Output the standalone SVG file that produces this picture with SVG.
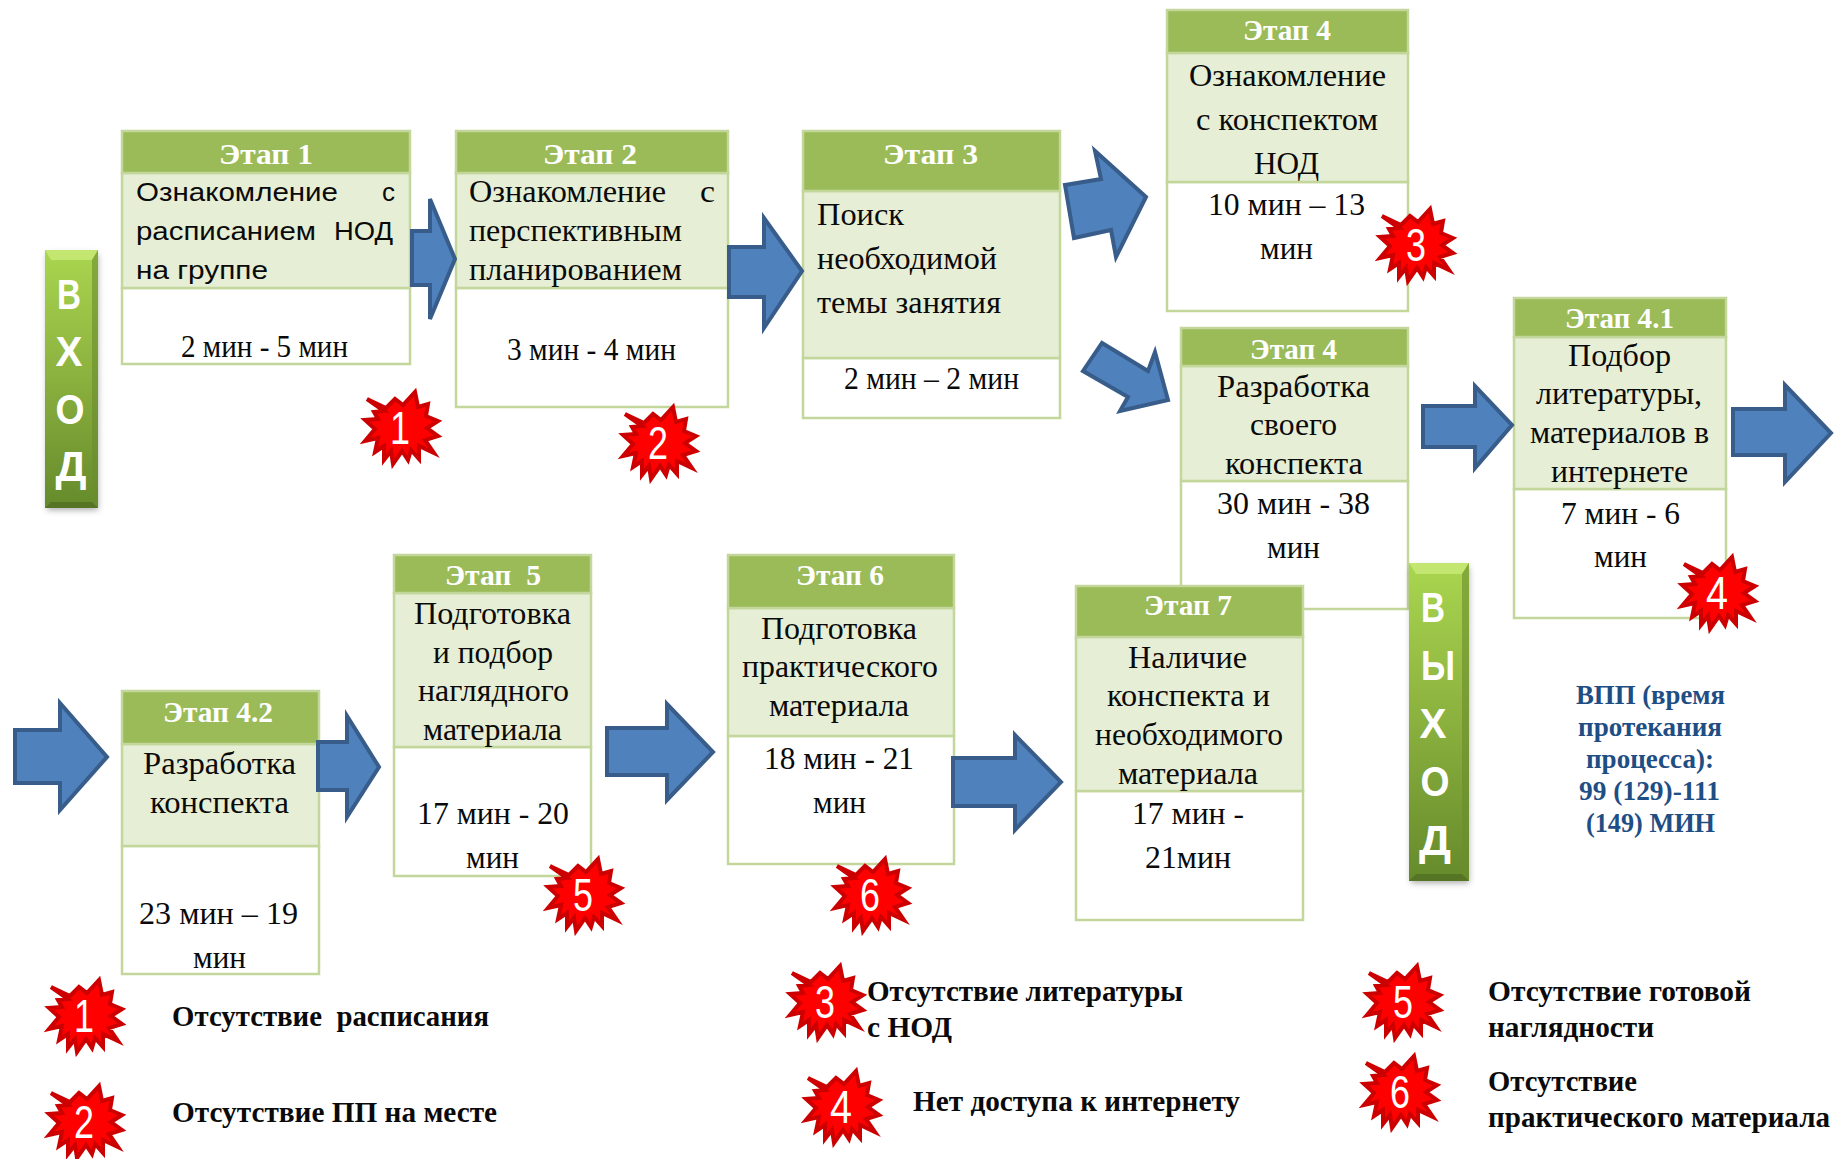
<svg xmlns="http://www.w3.org/2000/svg" width="1834" height="1159" viewBox="0 0 1834 1159">
<style>
text{font-family:"Liberation Serif","DejaVu Serif",serif;fill:#0a0a0a}
.h{fill:#9bbb59;stroke:#c3d69b;stroke-width:2.5}
.m{fill:#e6eed5;stroke:#c3d69b;stroke-width:2.5}
.b{fill:#fff;stroke:#c3d69b;stroke-width:2.5}
.ht{font-size:30px;font-weight:bold;fill:#fff}
.t{font-size:31px}
.s{font-family:"Liberation Sans","DejaVu Sans",sans-serif;font-size:26px}
.l{font-size:30px;font-weight:bold}
.v{font-size:28px;font-weight:bold;fill:#1f4e85}
.a{fill:#4f81bd;stroke:#385d8a;stroke-width:4}
.sn{font-family:"Liberation Sans","DejaVu Sans",sans-serif;font-size:46px;fill:#fff;text-anchor:middle}
.bl{font-family:"Liberation Sans","DejaVu Sans",sans-serif;font-size:42px;font-weight:bold;fill:#fff;text-anchor:middle}
</style>
<defs>
<linearGradient id="g" x1="0" y1="0" x2="0" y2="1"><stop offset="0" stop-color="#a9d64f"/><stop offset=".45" stop-color="#8eb440"/><stop offset="1" stop-color="#658a2b"/></linearGradient>
<filter id="sh" x="-30%" y="-10%" width="160%" height="120%"><feGaussianBlur stdDeviation="3"/></filter>
<polygon id="star" points="14,-36 17,-21 27,-24 25,-12 37,-7 26,0 37,8 24,12 33,25 18,18 18,31 10,22 7,32 1,23 -8,36 -10,23 -17,32 -17,18 -26,24 -23,10 -36,13 -26,1 -36,-8 -23,-9 -27,-16 -17,-17 -34,-29 -15,-20 -6,-29 2,-23" fill="#ff0000" stroke="#cc0000" stroke-width="4" stroke-linejoin="miter" stroke-miterlimit="4"/>
</defs>
<rect width="1834" height="1159" fill="#fff"/>

<g id="vhod">
<rect x="47" y="254" width="51" height="256" fill="#555" opacity=".5" filter="url(#sh)"/>
<rect x="45" y="250" width="53" height="258" fill="url(#g)"/>
<polygon points="45,250 98,250 92,260 51,260" fill="#c2e66f"/>
<polygon points="92,260 98,250 98,508 92,502" fill="#6a8c2e" opacity=".6"/>
<polygon points="45,508 98,508 92,502 51,502" fill="#557524"/>
<text class="bl" x="69" y="309" textLength="24" lengthAdjust="spacingAndGlyphs">В</text><text class="bl" x="69" y="366" textLength="27" lengthAdjust="spacingAndGlyphs">Х</text><text class="bl" x="70" y="424" textLength="29" lengthAdjust="spacingAndGlyphs">О</text><text class="bl" x="71" y="481" textLength="31" lengthAdjust="spacingAndGlyphs">Д</text>
</g>

<g id="etap1">
<rect class="b" x="122" y="288" width="288" height="76"/><rect class="m" x="122" y="173" width="288" height="115"/><rect class="h" x="122" y="131" width="288" height="42"/>
<text class="ht" x="219" y="164" textLength="94" lengthAdjust="spacingAndGlyphs">Этап 1</text>
<text class="s" x="136" y="201" textLength="202" lengthAdjust="spacingAndGlyphs">Ознакомление</text><text class="s" x="382" y="201" textLength="13" lengthAdjust="spacingAndGlyphs">с</text>
<text class="s" x="136" y="240" textLength="180" lengthAdjust="spacingAndGlyphs">расписанием</text><text class="s" x="334" y="240" textLength="59" lengthAdjust="spacingAndGlyphs">НОД</text>
<text class="s" x="136" y="279" textLength="132" lengthAdjust="spacingAndGlyphs">на группе</text>
<text class="t" x="181" y="357" textLength="167" lengthAdjust="spacingAndGlyphs">2 мин - 5 мин</text>
</g>
<g id="etap2">
<rect class="b" x="456" y="288" width="272" height="119"/><rect class="m" x="456" y="173" width="272" height="115"/><rect class="h" x="456" y="131" width="272" height="42"/>
<text class="ht" x="543" y="164" textLength="94" lengthAdjust="spacingAndGlyphs">Этап 2</text>
<text class="t" x="469" y="202" textLength="197" lengthAdjust="spacingAndGlyphs">Ознакомление</text><text class="t" x="700" y="202" textLength="15" lengthAdjust="spacingAndGlyphs">с</text>
<text class="t" x="469" y="241" textLength="213" lengthAdjust="spacingAndGlyphs">перспективным</text>
<text class="t" x="469" y="280" textLength="213" lengthAdjust="spacingAndGlyphs">планированием</text>
<text class="t" x="507" y="360" textLength="169" lengthAdjust="spacingAndGlyphs">3 мин - 4 мин</text>
</g>
<g id="etap3">
<rect class="b" x="803" y="358" width="257" height="60"/><rect class="m" x="803" y="191" width="257" height="167"/><rect class="h" x="803" y="131" width="257" height="60"/>
<text class="ht" x="883" y="164" textLength="95" lengthAdjust="spacingAndGlyphs">Этап 3</text>
<text class="t" x="817" y="225" textLength="87" lengthAdjust="spacingAndGlyphs">Поиск</text>
<text class="t" x="817" y="269" textLength="180" lengthAdjust="spacingAndGlyphs">необходимой</text>
<text class="t" x="817" y="313" textLength="184" lengthAdjust="spacingAndGlyphs">темы занятия</text>
<text class="t" x="844" y="389" textLength="175" lengthAdjust="spacingAndGlyphs">2 мин – 2 мин</text>
</g>
<g id="etap4a">
<rect class="b" x="1167" y="182" width="241" height="129"/><rect class="m" x="1167" y="53" width="241" height="129"/><rect class="h" x="1167" y="10" width="241" height="43"/>
<text class="ht" x="1243" y="40" textLength="88" lengthAdjust="spacingAndGlyphs">Этап 4</text>
<text class="t" x="1189" y="86" textLength="197" lengthAdjust="spacingAndGlyphs">Ознакомление</text>
<text class="t" x="1196" y="130" textLength="182" lengthAdjust="spacingAndGlyphs">с конспектом</text>
<text class="t" x="1254" y="174" textLength="65" lengthAdjust="spacingAndGlyphs">НОД</text>
<text class="t" x="1208" y="215" textLength="157" lengthAdjust="spacingAndGlyphs">10 мин – 13</text>
<text class="t" x="1260" y="259" textLength="53" lengthAdjust="spacingAndGlyphs">мин</text>
</g>
<g id="etap4b">
<rect class="b" x="1181" y="481" width="227" height="128"/><rect class="m" x="1181" y="366" width="227" height="115"/><rect class="h" x="1181" y="328" width="227" height="38"/>
<text class="ht" x="1250" y="359" textLength="87" lengthAdjust="spacingAndGlyphs">Этап 4</text>
<text class="t" x="1217" y="397" textLength="153" lengthAdjust="spacingAndGlyphs">Разработка</text>
<text class="t" x="1250" y="435" textLength="87" lengthAdjust="spacingAndGlyphs">своего</text>
<text class="t" x="1225" y="474" textLength="138" lengthAdjust="spacingAndGlyphs">конспекта</text>
<text class="t" x="1217" y="514" textLength="153" lengthAdjust="spacingAndGlyphs">30 мин - 38</text>
<text class="t" x="1267" y="558" textLength="53" lengthAdjust="spacingAndGlyphs">мин</text>
</g>
<g id="etap41">
<rect class="b" x="1514" y="489" width="212" height="129"/><rect class="m" x="1514" y="337" width="212" height="152"/><rect class="h" x="1514" y="298" width="212" height="39"/>
<text class="ht" x="1565" y="328" textLength="109" lengthAdjust="spacingAndGlyphs">Этап 4.1</text>
<text class="t" x="1568" y="366" textLength="103" lengthAdjust="spacingAndGlyphs">Подбор</text>
<text class="t" x="1536" y="404" textLength="166" lengthAdjust="spacingAndGlyphs">литературы,</text>
<text class="t" x="1530" y="443" textLength="179" lengthAdjust="spacingAndGlyphs">материалов в</text>
<text class="t" x="1551" y="482" textLength="137" lengthAdjust="spacingAndGlyphs">интернете</text>
<text class="t" x="1561" y="524" textLength="119" lengthAdjust="spacingAndGlyphs">7 мин - 6</text>
<text class="t" x="1594" y="567" textLength="53" lengthAdjust="spacingAndGlyphs">мин</text>
</g>
<g id="etap42">
<rect class="b" x="122" y="846" width="197" height="128"/><rect class="m" x="122" y="744" width="197" height="102"/><rect class="h" x="122" y="691" width="197" height="53"/>
<text class="ht" x="163" y="722" textLength="110" lengthAdjust="spacingAndGlyphs">Этап 4.2</text>
<text class="t" x="143" y="774" textLength="153" lengthAdjust="spacingAndGlyphs">Разработка</text>
<text class="t" x="150" y="813" textLength="139" lengthAdjust="spacingAndGlyphs">конспекта</text>
<text class="t" x="139" y="924" textLength="159" lengthAdjust="spacingAndGlyphs">23 мин – 19</text>
<text class="t" x="193" y="968" textLength="53" lengthAdjust="spacingAndGlyphs">мин</text>
</g>
<g id="etap5">
<rect class="b" x="394" y="747" width="197" height="129"/><rect class="m" x="394" y="593" width="197" height="154"/><rect class="h" x="394" y="555" width="197" height="38"/>
<text class="ht" x="445" y="585" textLength="96" lengthAdjust="spacingAndGlyphs" xml:space="preserve">Этап  5</text>
<text class="t" x="414" y="624" textLength="157" lengthAdjust="spacingAndGlyphs">Подготовка</text>
<text class="t" x="433" y="663" textLength="120" lengthAdjust="spacingAndGlyphs">и подбор</text>
<text class="t" x="418" y="701" textLength="151" lengthAdjust="spacingAndGlyphs">наглядного</text>
<text class="t" x="423" y="740" textLength="139" lengthAdjust="spacingAndGlyphs">материала</text>
<text class="t" x="417" y="824" textLength="152" lengthAdjust="spacingAndGlyphs">17 мин - 20</text>
<text class="t" x="466" y="868" textLength="53" lengthAdjust="spacingAndGlyphs">мин</text>
</g>
<g id="etap6">
<rect class="b" x="728" y="736" width="226" height="128"/><rect class="m" x="728" y="608" width="226" height="128"/><rect class="h" x="728" y="555" width="226" height="53"/>
<text class="ht" x="796" y="585" textLength="88" lengthAdjust="spacingAndGlyphs">Этап 6</text>
<text class="t" x="761" y="639" textLength="156" lengthAdjust="spacingAndGlyphs">Подготовка</text>
<text class="t" x="742" y="677" textLength="196" lengthAdjust="spacingAndGlyphs">практического</text>
<text class="t" x="769" y="716" textLength="140" lengthAdjust="spacingAndGlyphs">материала</text>
<text class="t" x="764" y="769" textLength="150" lengthAdjust="spacingAndGlyphs">18 мин - 21</text>
<text class="t" x="813" y="813" textLength="53" lengthAdjust="spacingAndGlyphs">мин</text>
</g>
<g id="etap7">
<rect class="b" x="1076" y="791" width="227" height="129"/><rect class="m" x="1076" y="637" width="227" height="154"/><rect class="h" x="1076" y="586" width="227" height="51"/>
<text class="ht" x="1144" y="615" textLength="88" lengthAdjust="spacingAndGlyphs">Этап 7</text>
<text class="t" x="1128" y="668" textLength="119" lengthAdjust="spacingAndGlyphs">Наличие</text>
<text class="t" x="1107" y="706" textLength="163" lengthAdjust="spacingAndGlyphs">конспекта и</text>
<text class="t" x="1095" y="745" textLength="188" lengthAdjust="spacingAndGlyphs">необходимого</text>
<text class="t" x="1118" y="784" textLength="140" lengthAdjust="spacingAndGlyphs">материала</text>
<text class="t" x="1132" y="824" textLength="112" lengthAdjust="spacingAndGlyphs">17 мин -</text>
<text class="t" x="1145" y="868" textLength="86" lengthAdjust="spacingAndGlyphs">21мин</text>
</g>
<g id="vyhod">
<rect x="1411" y="567" width="58" height="316" fill="#555" opacity=".5" filter="url(#sh)"/>
<rect x="1409" y="563" width="60" height="318" fill="url(#g)"/>
<polygon points="1409,563 1469,563 1462,574 1416,574" fill="#c2e66f"/>
<polygon points="1462,574 1469,563 1469,881 1462,874" fill="#6a8c2e" opacity=".6"/>
<polygon points="1409,881 1469,881 1462,874 1416,874" fill="#557524"/>
<text class="bl" x="1433" y="622" textLength="24" lengthAdjust="spacingAndGlyphs">В</text><text class="bl" x="1438" y="680" textLength="34" lengthAdjust="spacingAndGlyphs">Ы</text><text class="bl" x="1433" y="738" textLength="27" lengthAdjust="spacingAndGlyphs">Х</text><text class="bl" x="1435" y="796" textLength="29" lengthAdjust="spacingAndGlyphs">О</text><text class="bl" x="1435" y="855" textLength="32" lengthAdjust="spacingAndGlyphs">Д</text>
</g>

<g id="connectors">
<polygon class="a" points="412,231 430,231 430,199 455,259 430,319 430,285 412,285"/>
<polygon class="a" points="729,247 764,247 764,218 802,271 764,328 764,297 729,297"/>
<polygon class="a" points="1065,185 1101,179 1095,151 1146,197 1116,257 1111,230 1074,238"/>
<polygon class="a" points="1083,371 1102,343 1148,371 1155,352 1168,400 1120,411 1128,397"/>
<polygon class="a" points="1423,406 1475,406 1475,386 1512,425 1475,468 1475,447 1423,447"/>
<polygon class="a" points="1733,409 1785,409 1785,385 1831,433 1785,482 1785,455 1733,455"/>
<polygon class="a" points="15,730 60,730 60,703 107,757 60,810 60,783 15,783"/>
<polygon class="a" points="318,742 347,742 347,716 379,767 347,817 347,790 318,790"/>
<polygon class="a" points="607,728 667,728 667,704 713,752 667,800 667,775 607,775"/>
<polygon class="a" points="953,758 1015,758 1015,735 1061,782 1015,830 1015,806 953,806"/>
</g>

<g id="marker-1"><use href="#star" x="401" y="428"/><text class="sn" x="400" y="444" textLength="20" lengthAdjust="spacingAndGlyphs">1</text></g>
<g id="marker-2"><use href="#star" x="659" y="443"/><text class="sn" x="658" y="459" textLength="20" lengthAdjust="spacingAndGlyphs">2</text></g>
<g id="marker-3"><use href="#star" x="1416" y="245"/><text class="sn" x="1416" y="261" textLength="20" lengthAdjust="spacingAndGlyphs">3</text></g>
<g id="marker-4"><use href="#star" x="1718" y="593"/><text class="sn" x="1717" y="609" textLength="22" lengthAdjust="spacingAndGlyphs">4</text></g>
<g id="marker-5"><use href="#star" x="584" y="895"/><text class="sn" x="583" y="911" textLength="20" lengthAdjust="spacingAndGlyphs">5</text></g>
<g id="marker-6"><use href="#star" x="871" y="895"/><text class="sn" x="870" y="911" textLength="20" lengthAdjust="spacingAndGlyphs">6</text></g>

<g id="vpp">
<text class="v" x="1576" y="704" textLength="149" lengthAdjust="spacingAndGlyphs">ВПП (время</text>
<text class="v" x="1578" y="736" textLength="144" lengthAdjust="spacingAndGlyphs">протекания</text>
<text class="v" x="1586" y="768" textLength="128" lengthAdjust="spacingAndGlyphs">процесса):</text>
<text class="v" x="1579" y="800" textLength="141" lengthAdjust="spacingAndGlyphs">99 (129)-111</text>
<text class="v" x="1586" y="832" textLength="129" lengthAdjust="spacingAndGlyphs">(149) МИН</text>
</g>

<g id="legend-1"><use href="#star" x="85" y="1016"/><text class="sn" x="84" y="1032" textLength="20" lengthAdjust="spacingAndGlyphs">1</text><text class="l" x="172" y="1026" textLength="317" lengthAdjust="spacingAndGlyphs" xml:space="preserve">Отсутствие  расписания</text></g>
<g id="legend-2"><use href="#star" x="85" y="1122"/><text class="sn" x="84" y="1138" textLength="20" lengthAdjust="spacingAndGlyphs">2</text><text class="l" x="172" y="1122" textLength="325" lengthAdjust="spacingAndGlyphs">Отсутствие ПП на месте</text></g>
<g id="legend-3"><use href="#star" x="826" y="1002"/><text class="sn" x="825" y="1018" textLength="20" lengthAdjust="spacingAndGlyphs">3</text><text class="l" x="867" y="1001" textLength="316" lengthAdjust="spacingAndGlyphs">Отсутствие литературы</text><text class="l" x="867" y="1037" textLength="85" lengthAdjust="spacingAndGlyphs">с НОД</text></g>
<g id="legend-4"><use href="#star" x="842" y="1107"/><text class="sn" x="841" y="1123" textLength="22" lengthAdjust="spacingAndGlyphs">4</text><text class="l" x="913" y="1111" textLength="327" lengthAdjust="spacingAndGlyphs">Нет доступа к интернету</text></g>
<g id="legend-5"><use href="#star" x="1403" y="1002"/><text class="sn" x="1403" y="1018" textLength="20" lengthAdjust="spacingAndGlyphs">5</text><text class="l" x="1488" y="1001" textLength="263" lengthAdjust="spacingAndGlyphs">Отсутствие готовой</text><text class="l" x="1488" y="1037" textLength="166" lengthAdjust="spacingAndGlyphs">наглядности</text></g>
<g id="legend-6"><use href="#star" x="1400" y="1092"/><text class="sn" x="1400" y="1108" textLength="20" lengthAdjust="spacingAndGlyphs">6</text><text class="l" x="1488" y="1091" textLength="149" lengthAdjust="spacingAndGlyphs">Отсутствие</text><text class="l" x="1488" y="1127" textLength="342" lengthAdjust="spacingAndGlyphs">практического материала</text></g>
</svg>
